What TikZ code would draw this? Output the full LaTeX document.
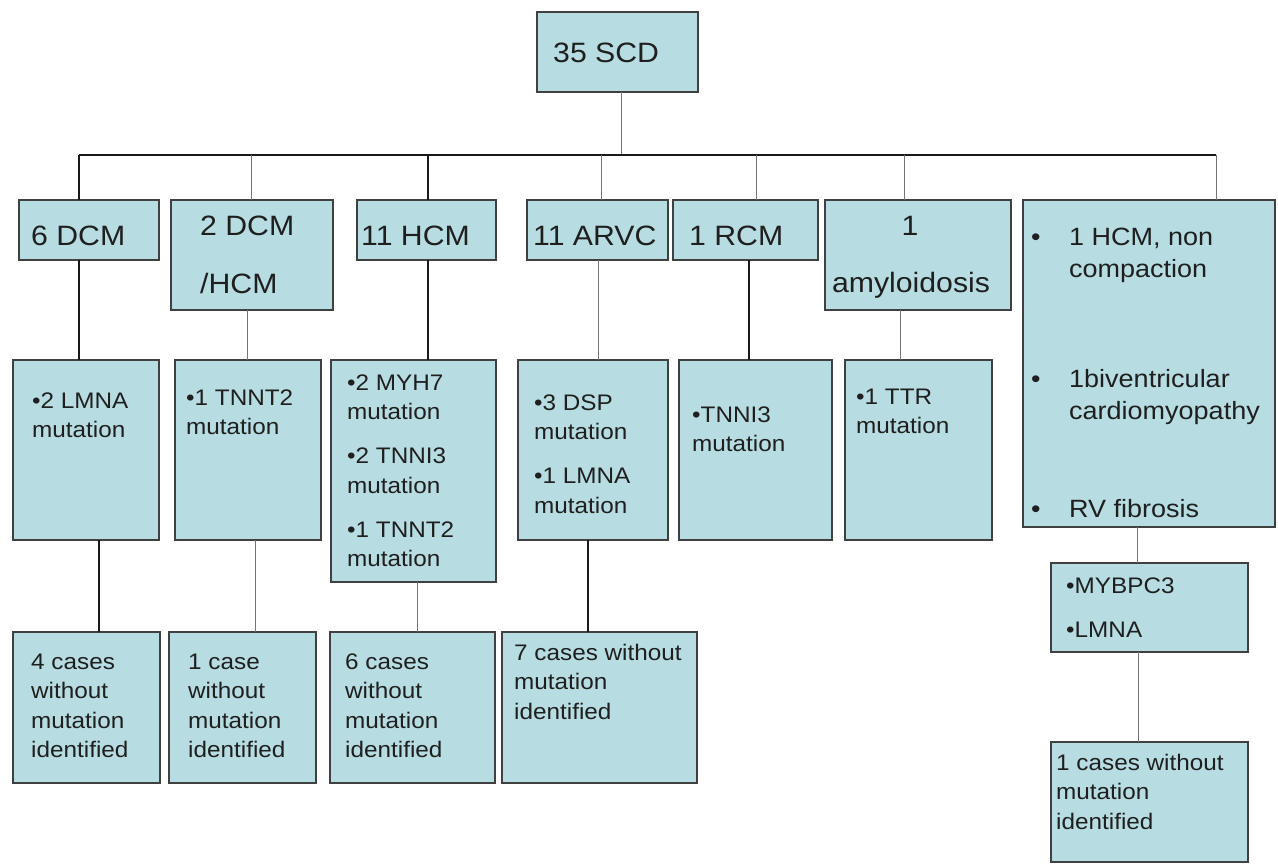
\documentclass[tikz,border=0pt]{standalone}
\usepackage{fontspec}
\setmainfont{Liberation Sans}[FakeStretch=1.08]
\definecolor{boxfill}{RGB}{183,221,226}
\newcommand\mkl[1]{\hbox{#1}}
\newcommand\itemgap{\vskip14.5pt}
\newcommand\szA{\fontsize{28}{58}\selectfont}
\newcommand\szB{\fontsize{25}{32}\selectfont}
\newcommand\szC{\fontsize{22.5}{29.5}\selectfont}
\tikzset{
  bx/.style={draw=black!75, fill=boxfill, line width=1.1pt, rectangle, inner sep=0pt, outer sep=0pt, anchor=north west},
  thk/.style={line width=1.6pt, draw=black!90},
  thn/.style={line width=0.9pt, draw=black!55},
  tx/.style={anchor=base west, inner sep=0pt, text=black!88},
  txc/.style={anchor=base, inner sep=0pt, text=black!88},
}
\begin{document}
\begin{tikzpicture}[x=1pt,y=-1pt]
\useasboundingbox[fill=white] (0,0) rectangle (1278,865);
% ---- boxes ----
\node[bx, minimum width=161pt, minimum height=80pt] (top) at (537,12) {};
\node[bx, minimum width=140pt, minimum height=60pt] (d1) at (19,200) {};
\node[bx, minimum width=162pt, minimum height=110pt] (d2) at (171,200) {};
\node[bx, minimum width=139pt, minimum height=60pt] (d3) at (357,200) {};
\node[bx, minimum width=141pt, minimum height=60pt] (d4) at (527,200) {};
\node[bx, minimum width=145pt, minimum height=60pt] (d5) at (673,200) {};
\node[bx, minimum width=186pt, minimum height=110pt] (d6) at (825,200) {};
\node[bx, minimum width=252pt, minimum height=327pt] (d7) at (1023,200) {};
\node[bx, minimum width=146pt, minimum height=180pt] (m1) at (13,360) {};
\node[bx, minimum width=146pt, minimum height=180pt] (m2) at (175,360) {};
\node[bx, minimum width=165pt, minimum height=222pt] (m3) at (331,360) {};
\node[bx, minimum width=150pt, minimum height=180pt] (m4) at (518,360) {};
\node[bx, minimum width=153pt, minimum height=180pt] (m5) at (679,360) {};
\node[bx, minimum width=147pt, minimum height=180pt] (m6) at (845,360) {};
\node[bx, minimum width=197pt, minimum height=89pt] (m7) at (1051,563) {};
\node[bx, minimum width=147pt, minimum height=151pt] (b1) at (13,632) {};
\node[bx, minimum width=147pt, minimum height=151pt] (b2) at (169,632) {};
\node[bx, minimum width=165pt, minimum height=151pt] (b3) at (330,632) {};
\node[bx, minimum width=195pt, minimum height=151pt] (b4) at (502,632) {};
\node[bx, minimum width=197pt, minimum height=120pt] (b7) at (1051,742) {};
% ---- texts ----
\node[tx, font=\szA] (t0) at (553,62) {35 SCD};
\node[tx, font=\szA] (t1) at (31,245) {6 DCM};
\node[tx, font=\szA] (t2) at (200,235) {\vtop{\mkl{2 DCM}\mkl{/HCM}}};
\node[tx, font=\szA] (t3) at (361,245) {11 HCM};
\node[tx, font=\szA] (t4) at (533,245) {11 ARVC};
\node[tx, font=\szA] (t5) at (689,245) {1 RCM};
\node[txc, font=\szA] (t6a) at (910,235) {1};
\node[txc, font=\szA] (t6b) at (911,292) {amyloidosis};
\node[tx, font=\szB] (p1) at (1031,245) {•};
\node[tx, font=\szB] (p2) at (1031,387) {•};
\node[tx, font=\szB] (p3) at (1031,517) {•};
\node[tx, font=\szB] (t7a) at (1069,245) {\vtop{\mkl{1 HCM, non}\mkl{compaction}}};
\node[tx, font=\szB] (t7b) at (1069,387) {\vtop{\mkl{1biventricular}\mkl{cardiomyopathy}}};
\node[tx, font=\szB] (t7c) at (1069,517) {RV fibrosis};
\node[tx, font=\szC] (u1) at (32,408) {\vtop{\mkl{•2 LMNA}\mkl{mutation}}};
\node[tx, font=\szC] (u2) at (186,405) {\vtop{\mkl{•1 TNNT2}\mkl{mutation}}};
\node[tx, font=\szC] (u3) at (347,390) {\vtop{\mkl{•2 MYH7}\mkl{mutation}\itemgap\mkl{•2 TNNI3}\mkl{mutation}\itemgap\mkl{•1 TNNT2}\mkl{mutation}}};
\node[tx, font=\szC] (u4) at (534,410) {\vtop{\mkl{•3 DSP}\mkl{mutation}\itemgap\mkl{•1 LMNA}\mkl{mutation}}};
\node[tx, font=\szC] (u5) at (692,422) {\vtop{\mkl{•TNNI3}\mkl{mutation}}};
\node[tx, font=\szC] (u6) at (856,404) {\vtop{\mkl{•1 TTR}\mkl{mutation}}};
\node[tx, font=\szC] (u7) at (1066,593) {\vtop{\mkl{•MYBPC3}\itemgap\mkl{•LMNA}}};
\node[tx, font=\szC] (v1) at (31,669) {\vtop{\mkl{4 cases}\mkl{without}\mkl{mutation}\mkl{identified}}};
\node[tx, font=\szC] (v2) at (188,669) {\vtop{\mkl{1 case}\mkl{without}\mkl{mutation}\mkl{identified}}};
\node[tx, font=\szC] (v3) at (345,669) {\vtop{\mkl{6 cases}\mkl{without}\mkl{mutation}\mkl{identified}}};
\node[tx, font=\szC] (v4) at (514,660) {\vtop{\mkl{7 cases without}\mkl{mutation}\mkl{identified}}};
\node[tx, font=\szC] (v7) at (1056,770) {\vtop{\mkl{1 cases without}\mkl{mutation}\mkl{identified}}};
% ---- connectors ----
\coordinate (busL) at (79,155);
\coordinate (busR) at (1216,155);
\coordinate (busT) at (621,155);
\draw[thn] (621,0 |- top.south) -- (busT);
\draw[thk] (busL) -- (busR);
\draw[thk] (busL) -- (79,0 |- d1.north);
\draw[thn] (251,155) -- (251,0 |- d2.north);
\draw[thk] (428,155) -- (428,0 |- d3.north);
\draw[thn] (601,155) -- (601,0 |- d4.north);
\draw[thn] (756,155) -- (756,0 |- d5.north);
\draw[thn] (904,155) -- (904,0 |- d6.north);
\draw[thn] (busR) -- (1216,0 |- d7.north);
\draw[thk] (79,0 |- d1.south) -- (79,0 |- m1.north);
\draw[thn] (247,0 |- d2.south) -- (247,0 |- m2.north);
\draw[thk] (428,0 |- d3.south) -- (428,0 |- m3.north);
\draw[thn] (598,0 |- d4.south) -- (598,0 |- m4.north);
\draw[thk] (749,0 |- d5.south) -- (749,0 |- m5.north);
\draw[thn] (900,0 |- d6.south) -- (900,0 |- m6.north);
\draw[thn] (1137,0 |- d7.south) -- (1137,0 |- m7.north);
\draw[thk] (99,0 |- m1.south) -- (99,0 |- b1.north);
\draw[thn] (255,0 |- m2.south) -- (255,0 |- b2.north);
\draw[thn] (417,0 |- m3.south) -- (417,0 |- b3.north);
\draw[thk] (588,0 |- m4.south) -- (588,0 |- b4.north);
\draw[thn] (1138,0 |- m7.south) -- (1138,0 |- b7.north);
\end{tikzpicture}
\end{document}
